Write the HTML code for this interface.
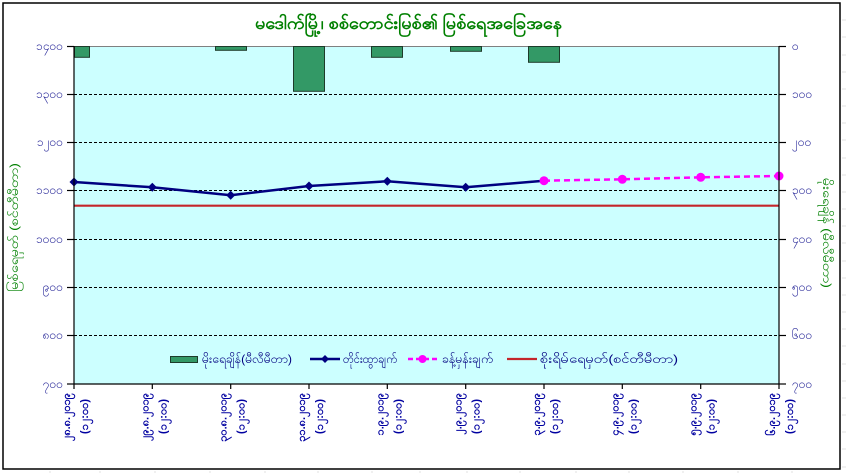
<!DOCTYPE html>
<html>
<head>
<meta charset="utf-8">
<style>
html,body{margin:0;padding:0;background:#fff;}
svg{display:block;}
text{font-family:"Liberation Sans","DejaVu Sans",sans-serif;}
</style>
</head>
<body>
<svg width="846" height="473" viewBox="0 0 846 473" xmlns="http://www.w3.org/2000/svg">
  <rect x="0" y="0" width="846" height="473" fill="#ffffff"/>
  <!-- faint spreadsheet grid outside chart -->
  <g stroke="#e2e2e2" stroke-width="1">
    <line x1="842" y1="20" x2="846" y2="20"/><line x1="842" y1="37" x2="846" y2="37"/>
    <line x1="842" y1="55" x2="846" y2="55"/><line x1="842" y1="72" x2="846" y2="72"/>
    <line x1="842" y1="89" x2="846" y2="89"/><line x1="842" y1="106" x2="846" y2="106"/>
    <line x1="842" y1="123" x2="846" y2="123"/><line x1="842" y1="140" x2="846" y2="140"/>
    <line x1="842" y1="158" x2="846" y2="158"/><line x1="842" y1="175" x2="846" y2="175"/>
    <line x1="842" y1="192" x2="846" y2="192"/><line x1="842" y1="209" x2="846" y2="209"/>
    <line x1="842" y1="226" x2="846" y2="226"/><line x1="842" y1="243" x2="846" y2="243"/>
    <line x1="842" y1="261" x2="846" y2="261"/><line x1="842" y1="278" x2="846" y2="278"/>
    <line x1="842" y1="295" x2="846" y2="295"/><line x1="842" y1="312" x2="846" y2="312"/>
    <line x1="842" y1="329" x2="846" y2="329"/><line x1="842" y1="346" x2="846" y2="346"/>
    <line x1="842" y1="364" x2="846" y2="364"/><line x1="842" y1="381" x2="846" y2="381"/>
    <line x1="842" y1="398" x2="846" y2="398"/><line x1="842" y1="415" x2="846" y2="415"/>
    <line x1="842" y1="432" x2="846" y2="432"/><line x1="842" y1="449" x2="846" y2="449"/>
    <line x1="842" y1="467" x2="846" y2="467"/>
    <line x1="467" y1="471" x2="467" y2="473"/><line x1="520" y1="471" x2="520" y2="473"/>
    <line x1="576" y1="471" x2="576" y2="473"/><line x1="629" y1="471" x2="629" y2="473"/>
    <line x1="683" y1="471" x2="683" y2="473"/><line x1="738" y1="471" x2="738" y2="473"/>
    <line x1="792" y1="471" x2="792" y2="473"/>
    <line x1="50" y1="471" x2="50" y2="473"/><line x1="100" y1="471" x2="100" y2="473"/>
    <line x1="155" y1="471" x2="155" y2="473"/><line x1="210" y1="471" x2="210" y2="473"/>
    <line x1="265" y1="471" x2="265" y2="473"/><line x1="318" y1="471" x2="318" y2="473"/>
    <line x1="372" y1="471" x2="372" y2="473"/><line x1="420" y1="471" x2="420" y2="473"/>
  </g>

  <!-- chart border -->
  <rect x="3" y="3" width="837" height="466" fill="#ffffff" stroke="#000" stroke-width="1.5"/>

  <!-- title -->
  <text x="255" y="29" font-size="17" font-weight="bold" fill="#008000" textLength="307" lengthAdjust="spacingAndGlyphs">မဒေါက်မြို့၊ စစ်တောင်းမြစ်၏ မြစ်ရေအခြေအနေ</text>

  <!-- plot area -->
  <rect x="74" y="46" width="705" height="338" fill="#CCFFFF"/>

  <!-- gridlines -->
  <g stroke="#000" stroke-width="1" stroke-dasharray="3,2">
    <line x1="74" y1="94.5" x2="779" y2="94.5"/>
    <line x1="74" y1="142.5" x2="779" y2="142.5"/>
    <line x1="74" y1="190.5" x2="779" y2="190.5"/>
    <line x1="74" y1="239.5" x2="779" y2="239.5"/>
    <line x1="74" y1="287.5" x2="779" y2="287.5"/>
    <line x1="74" y1="335.5" x2="779" y2="335.5"/>
  </g>
  <line x1="74" y1="46.5" x2="779" y2="46.5" stroke="#808080" stroke-width="1"/>

  <!-- rainfall bars -->
  <g fill="#339966" stroke="#1d3b2a" stroke-width="1">
    <rect x="74.5" y="46.5" width="15" height="10.8"/>
    <rect x="215.5" y="46.5" width="31" height="3.8"/>
    <rect x="293.5" y="46.5" width="31" height="44.8"/>
    <rect x="371.5" y="46.5" width="31" height="10.8"/>
    <rect x="450.5" y="46.5" width="31" height="4.8"/>
    <rect x="528.5" y="46.5" width="31" height="15.8"/>
  </g>

  <!-- danger level -->
  <line x1="74" y1="205.7" x2="779" y2="205.7" stroke="#C4262B" stroke-width="2.2"/>

  <!-- observed -->
  <polyline points="74,182 152.3,187.3 230.7,195.3 309,186 387.3,181.3 465.7,187.3 544,180.7" fill="none" stroke="#000080" stroke-width="2.5"/>
  <g fill="#000080">
    <polygon points="74,177.5 78.5,182 74,186.5 69.5,182"/>
    <polygon points="152.3,182.8 156.8,187.3 152.3,191.8 147.8,187.3"/>
    <polygon points="230.7,190.8 235.2,195.3 230.7,199.8 226.2,195.3"/>
    <polygon points="309,181.5 313.5,186 309,190.5 304.5,186"/>
    <polygon points="387.3,176.8 391.8,181.3 387.3,185.8 382.8,181.3"/>
    <polygon points="465.7,182.8 470.2,187.3 465.7,191.8 461.2,187.3"/>
  </g>

  <!-- forecast -->
  <polyline points="544,180.7 622.3,179.3 700.7,177.3 779,176" fill="none" stroke="#FF00FF" stroke-width="2.5" stroke-dasharray="6,4"/>
  <g fill="#FF00FF">
    <circle cx="544" cy="180.7" r="4.5"/>
    <circle cx="622.3" cy="179.3" r="4.5"/>
    <circle cx="700.7" cy="177.3" r="4.5"/>
    <circle cx="779" cy="176" r="4.5"/>
  </g>

  <!-- axes -->
  <g stroke="#000" stroke-width="1.2">
    <line x1="74" y1="46" x2="74" y2="384.5"/>
    <line x1="779" y1="46" x2="779" y2="384.5"/>
    <line x1="74" y1="384" x2="779" y2="384"/>
    <line x1="67" y1="46.5" x2="74" y2="46.5"/>
    <line x1="67" y1="94.5" x2="74" y2="94.5"/>
    <line x1="67" y1="142.5" x2="74" y2="142.5"/>
    <line x1="67" y1="190.5" x2="74" y2="190.5"/>
    <line x1="67" y1="239.5" x2="74" y2="239.5"/>
    <line x1="67" y1="287.5" x2="74" y2="287.5"/>
    <line x1="67" y1="335.5" x2="74" y2="335.5"/>
    <line x1="67" y1="384" x2="74" y2="384"/>
    <line x1="779" y1="46.5" x2="786" y2="46.5"/>
    <line x1="779" y1="94.5" x2="786" y2="94.5"/>
    <line x1="779" y1="142.5" x2="786" y2="142.5"/>
    <line x1="779" y1="190.5" x2="786" y2="190.5"/>
    <line x1="779" y1="239.5" x2="786" y2="239.5"/>
    <line x1="779" y1="287.5" x2="786" y2="287.5"/>
    <line x1="779" y1="335.5" x2="786" y2="335.5"/>
    <line x1="779" y1="384" x2="786" y2="384"/>
    <line x1="74" y1="384" x2="74" y2="389"/>
    <line x1="152.3" y1="384" x2="152.3" y2="389"/>
    <line x1="230.7" y1="384" x2="230.7" y2="389"/>
    <line x1="309" y1="384" x2="309" y2="389"/>
    <line x1="387.3" y1="384" x2="387.3" y2="389"/>
    <line x1="465.7" y1="384" x2="465.7" y2="389"/>
    <line x1="544" y1="384" x2="544" y2="389"/>
    <line x1="622.3" y1="384" x2="622.3" y2="389"/>
    <line x1="700.7" y1="384" x2="700.7" y2="389"/>
    <line x1="779" y1="384" x2="779" y2="389"/>
  </g>

  <!-- left tick labels -->
  <g font-size="12" fill="#2a2a9a" text-anchor="end">
    <text x="63" y="50">၁၄၀၀</text>
    <text x="63" y="98">၁၃၀၀</text>
    <text x="63" y="146">၁၂၀၀</text>
    <text x="63" y="194">၁၁၀၀</text>
    <text x="63" y="243">၁၀၀၀</text>
    <text x="63" y="291">၉၀၀</text>
    <text x="63" y="339">၈၀၀</text>
    <text x="63" y="388">၇၀၀</text>
  </g>
  <!-- right tick labels -->
  <g font-size="12" fill="#2a2a9a" text-anchor="start">
    <text x="792" y="50">၀</text>
    <text x="792" y="98">၁၀၀</text>
    <text x="792" y="146">၂၀၀</text>
    <text x="792" y="194">၃၀၀</text>
    <text x="792" y="243">၄၀၀</text>
    <text x="792" y="291">၅၀၀</text>
    <text x="792" y="339">၆၀၀</text>
    <text x="792" y="388">၇၀၀</text>
  </g>

  <!-- axis titles -->
  <text transform="translate(18,292) rotate(-90)" font-size="12" fill="#008000" textLength="129" lengthAdjust="spacingAndGlyphs">မြစ်ရေမှတ် (စင်တီမီတာ)</text>
  <text transform="translate(823,178) rotate(90)" font-size="12" fill="#008000" textLength="110" lengthAdjust="spacingAndGlyphs">မိုးရေချိန် (မီလီမီတာ)</text>

  <!-- x labels -->
  <g font-size="11" font-weight="bold" fill="#0000a0" text-anchor="end">
    <text transform="translate(70,393) rotate(-90)">၂၈.၈.၂၀၁၉</text>
    <text transform="translate(88,399) rotate(-90)">(၁၂:၀၀)</text>
    <text transform="translate(148.3,393) rotate(-90)">၂၉.၈.၂၀၁၉</text>
    <text transform="translate(166.3,399) rotate(-90)">(၁၂:၀၀)</text>
    <text transform="translate(226.7,393) rotate(-90)">၃၀.၈.၂၀၁၉</text>
    <text transform="translate(244.7,399) rotate(-90)">(၁၂:၀၀)</text>
    <text transform="translate(305,393) rotate(-90)">၃၁.၈.၂၀၁၉</text>
    <text transform="translate(323,399) rotate(-90)">(၁၂:၀၀)</text>
    <text transform="translate(383.3,393) rotate(-90)">၁.၉.၂၀၁၉</text>
    <text transform="translate(401.3,399) rotate(-90)">(၁၂:၀၀)</text>
    <text transform="translate(461.7,393) rotate(-90)">၂.၉.၂၀၁၉</text>
    <text transform="translate(479.7,399) rotate(-90)">(၁၂:၀၀)</text>
    <text transform="translate(540,393) rotate(-90)">၃.၉.၂၀၁၉</text>
    <text transform="translate(558,399) rotate(-90)">(၁၂:၀၀)</text>
    <text transform="translate(618.3,393) rotate(-90)">၄.၉.၂၀၁၉</text>
    <text transform="translate(636.3,399) rotate(-90)">(၁၂:၀၀)</text>
    <text transform="translate(696.7,393) rotate(-90)">၅.၉.၂၀၁၉</text>
    <text transform="translate(714.7,399) rotate(-90)">(၁၂:၀၀)</text>
    <text transform="translate(775,393) rotate(-90)">၆.၉.၂၀၁၉</text>
    <text transform="translate(793,399) rotate(-90)">(၁၂:၀၀)</text>
  </g>

  <!-- legend -->
  <rect x="170.5" y="356.5" width="27" height="6" fill="#339966" stroke="#1d3b2a" stroke-width="1"/>
  <text x="202" y="363" font-size="12" fill="#000080" textLength="90" lengthAdjust="spacingAndGlyphs">မိုးရေချိန်(မီလီမီတာ)</text>

  <line x1="310" y1="359" x2="340" y2="359" stroke="#000080" stroke-width="2.5"/>
  <polygon points="325,355 329,359 325,363 321,359" fill="#000080"/>
  <text x="343" y="363" font-size="12" fill="#000080" textLength="54" lengthAdjust="spacingAndGlyphs">တိုင်းထွာချက်</text>

  <line x1="408" y1="359" x2="437" y2="359" stroke="#FF00FF" stroke-width="2.5" stroke-dasharray="5,3"/>
  <circle cx="422.5" cy="359" r="4" fill="#FF00FF"/>
  <text x="442" y="363" font-size="12" fill="#000080" textLength="51" lengthAdjust="spacingAndGlyphs">ခန့်မှန်းချက်</text>

  <line x1="507" y1="359" x2="537" y2="359" stroke="#C4262B" stroke-width="2.2"/>
  <text x="540" y="363" font-size="12" fill="#000080" textLength="138" lengthAdjust="spacingAndGlyphs">စိုးရိမ်ရေမှတ်(စင်တီမီတာ)</text>
</svg>
</body>
</html>
